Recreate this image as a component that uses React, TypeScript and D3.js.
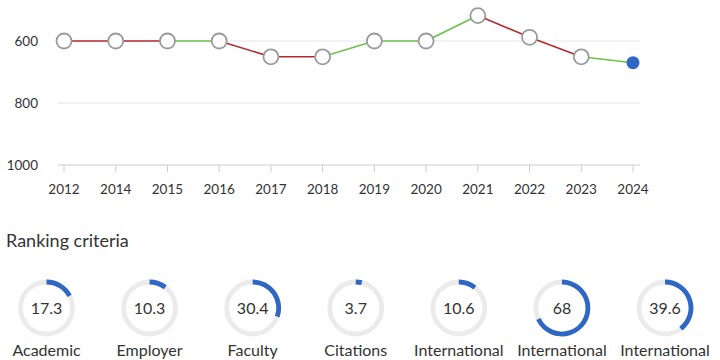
import React from "react";
import * as d3 from "d3";

const years = ["2012", "2014", "2015", "2016", "2017", "2018", "2019", "2020", "2021", "2022", "2023", "2024"];
const ranks = [600, 600, 600, 600, 651, 651, 600, 600, 518, 588, 651, 670];
const segmentColors = ["#b22a2e", "#b22a2e", "#6cc24a", "#b22a2e", "#b22a2e", "#6cc24a", "#6cc24a", "#6cc24a", "#b22a2e", "#b22a2e", "#6cc24a"];
const yTicks = [600, 800, 1000];

const criteriaLabels = ["Academic", "Employer", "Faculty", "Citations", "International", "International", "International"];
const criteriaValues = [17.3, 10.3, 30.4, 3.7, 10.6, 68, 39.6];

const FONT = "Lato, 'Open Sans', sans-serif";

export default function App() {
  const W = 720, H = 360;
  const x = d3.scalePoint<string>().domain(years).range([64, 633]);
  const y = d3.scaleLinear().domain([600, 1000]).range([41, 165]);
  const axisLeft = 58, axisRight = 640;

  const cx = d3.scaleLinear().domain([0, criteriaValues.length - 1]).range([46.5, 665]);
  const R = 26;
  const arc = d3.arc<any>().innerRadius(R - 2.4).outerRadius(R + 2.4);

  return (
    <svg width={W} height={H} style={{ position: "absolute", left: 0, top: 0, fontFamily: FONT }}>
      <rect width={W} height={H} fill="#fff" />
      {yTicks.map((t) => (
        <g key={t}>
          <line x1={axisLeft} x2={axisRight} y1={y(t)} y2={y(t)} stroke={t === 1000 ? "#cccccc" : "#e6e6e6"} strokeWidth={1} />
          <text x={38} y={y(t)} dy="0.35em" textAnchor="end" fontSize={13.5} fill="#333">{t}</text>
        </g>
      ))}
      {years.map((yr) => (
        <g key={yr}>
          <line x1={x(yr)} x2={x(yr)} y1={165} y2={172} stroke="#cccccc" />
          <text x={x(yr)} y={194} textAnchor="middle" fontSize={13.5} fill="#333">{yr}</text>
        </g>
      ))}
      {segmentColors.map((c, i) => (
        <line key={i} x1={x(years[i])} y1={y(ranks[i])} x2={x(years[i + 1])} y2={y(ranks[i + 1])} stroke={c} strokeWidth={1.6} />
      ))}
      {years.map((yr, i) =>
        i === years.length - 1 ? (
          <circle key={yr} cx={x(yr)} cy={y(ranks[i])} r={6.5} fill="#2f67c4" />
        ) : (
          <circle key={yr} cx={x(yr)} cy={y(ranks[i])} r={7.5} fill="#fff" stroke="#9a9a9a" strokeWidth={1.8} />
        )
      )}
      <text x={6} y={247} fontSize={18} fill="#333">Ranking criteria</text>
      {criteriaValues.map((v, i) => (
        <g key={i} transform={`translate(${cx(i)},308)`}>
          <circle r={R} fill="none" stroke="#ebebeb" strokeWidth={4.8} />
          <path d={arc({ startAngle: 0, endAngle: (v / 100) * 2 * Math.PI }) || ""} fill="#2f67c4" />
          <text y={0} dy="0.35em" textAnchor="middle" fontSize={16} fill="#333">{v}</text>
          <text y={48} textAnchor="middle" fontSize={16} fill="#333">{criteriaLabels[i]}</text>
        </g>
      ))}
    </svg>
  );
}
